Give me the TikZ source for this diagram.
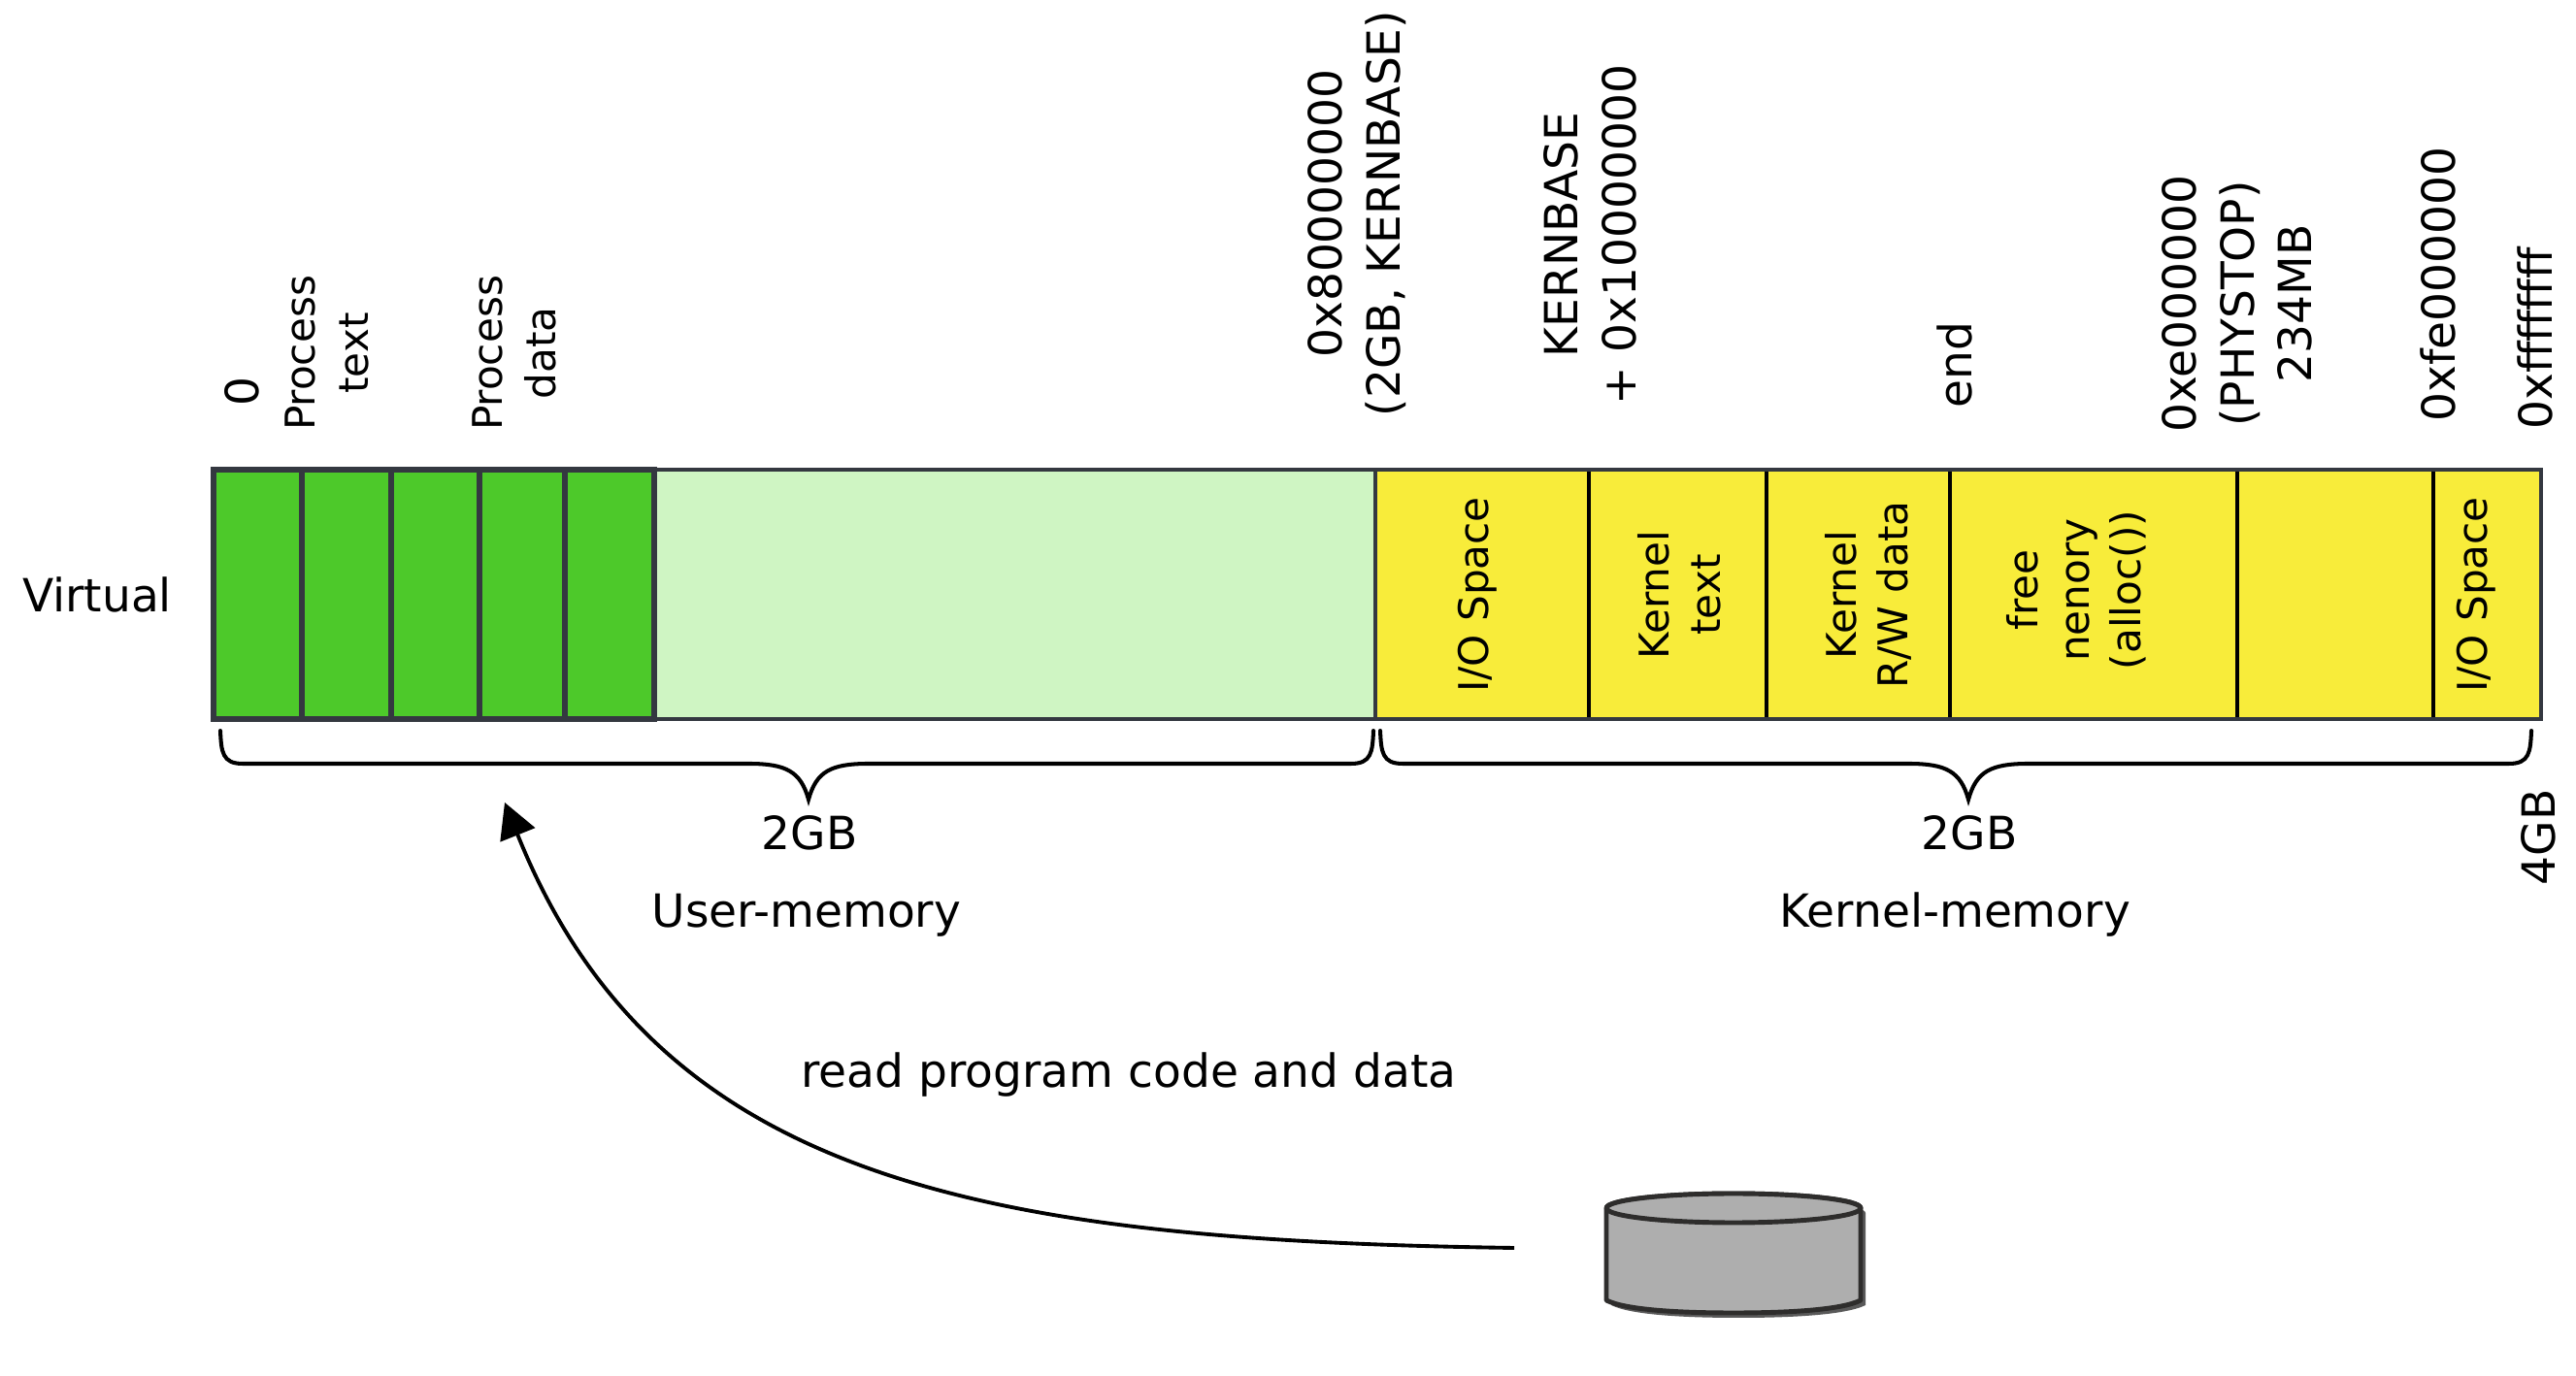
\documentclass[tikz,border=0pt]{standalone}
\usepackage{fontspec}
\setmainfont{DejaVu Sans}
\usetikzlibrary{arrows.meta,shadows}

\definecolor{procgreen}{HTML}{4DC92A}
\definecolor{usergreen}{HTML}{CFF5C3}
\definecolor{kernyellow}{HTML}{F8EC3A}
\definecolor{framegray}{HTML}{343840}
\definecolor{diskgray}{HTML}{AEAEAE}
\definecolor{diskline}{HTML}{2E2D2C}

\tikzset{
  lab/.style={font=\fontsize{13.4}{17}\selectfont, align=center},
  toplab/.style={lab, rotate=90},
  seglab/.style={font=\fontsize{12}{15}\selectfont, align=center, rotate=90},
  brc/.style={line width=1.15pt, line cap=round},
  diskpart/.style={draw=diskline, line width=1.4pt, fill=diskgray, line join=round},
}

\begin{document}
\begin{tikzpicture}
    \useasboundingbox (0,0) rectangle (26.54,14.18);

    % Process pages
    \draw[line width=1.3pt, draw=framegray, fill=usergreen] (6.74,6.77) rectangle (14.17,9.34);
    \foreach \xa/\xb in {2.20/3.11, 3.11/4.03, 4.03/4.94, 4.94/5.82, 5.82/6.74}
        \draw[line width=1.5pt, draw=framegray, fill=procgreen] (\xa,6.77) rectangle (\xb,9.34);

    % Kernel part
    \fill[kernyellow] (14.17,6.77) rectangle (26.18,9.34);
    \foreach \x in {14.17, 16.37, 18.20, 20.09, 23.05, 25.07}
        \draw[line width=1.1pt] (\x,6.77) -- (\x,9.34);
    \draw[line width=1.2pt, draw=framegray] (14.17,6.77) rectangle (26.18,9.34);

    % Labels inside
    \node[seglab] (io1) at (15.22,8.05) {I/O Space};
    \node[seglab] (ktext) at (17.30,8.05) {Kernel\\text};
    \node[seglab] (kdata) at (19.25,8.05) {Kernel\\R/W data};
    \node[seglab] (free) at (21.39,8.10) {free\\nenory\\(alloc())};
    \node[seglab] (io2) at (25.51,8.05) {I/O Space};

    % Addresses
    \node[toplab] (zero) at (2.49,10.14) {0};
    \node[toplab, font=\fontsize{12}{15.5}\selectfont] (ptext) at (3.37,10.54) {Process\\text};
    \node[toplab, font=\fontsize{12}{15.5}\selectfont] (pdata) at (5.30,10.54) {Process\\data};
    \node[toplab] (kbase) at (13.98,11.98) {0x80000000\\(2GB, KERNBASE)};
    \node[toplab] (kbaseb) at (16.38,11.76) {KERNBASE\\+ 0x10000000};
    \node[toplab] (kend) at (20.14,10.42) {end};
    \node[toplab] (phystop) at (23.05,11.05) {0xe000000\\(PHYSTOP)\\234MB};
    \node[toplab] (devsp) at (25.12,11.25) {0xfe000000};
    \node[toplab] (topaddr) at (26.12,10.69) {0xffffffff};
    \node[toplab] (fourgb) at (26.15,5.55) {4GB};

    \node[lab] (virt) at (1.00,8.05) {Virtual};

    % Braces
    \draw[brc] (2.27,6.65) .. controls (2.28,6.43) and (2.29,6.31) .. (2.50,6.31) -- (7.71,6.31)
        .. controls (8.10,6.31) and (8.25,6.23) .. (8.33,5.94)
        .. controls (8.41,6.23) and (8.56,6.31) .. (8.95,6.31) -- (13.92,6.31)
        .. controls (14.13,6.31) and (14.14,6.43) .. (14.15,6.65);
    \draw[brc] (14.22,6.65) .. controls (14.23,6.43) and (14.24,6.31) .. (14.45,6.31) -- (19.66,6.31)
        .. controls (20.05,6.31) and (20.20,6.23) .. (20.28,5.94)
        .. controls (20.36,6.23) and (20.51,6.31) .. (20.90,6.31) -- (25.85,6.31)
        .. controls (26.06,6.31) and (26.07,6.43) .. (26.08,6.65);
    \node[lab] (ugb) at (8.34,5.60) {2GB};
    \node[lab] (kgb) at (20.29,5.60) {2GB};
    \node[lab] (umem) at (8.31,4.75) {User-memory};
    \node[lab] (kmem) at (20.14,4.75) {Kernel-memory};

    % Disk
    \draw[diskpart, drop shadow={shadow xshift=0.05cm, shadow yshift=-0.05cm, fill=black, opacity=0.65}]
        (16.55,1.73) -- (16.55,0.78) .. controls (16.75,0.68) and (17.30,0.65) .. (17.86,0.65)
        .. controls (18.42,0.65) and (18.97,0.68) .. (19.17,0.78) -- (19.17,1.73)
        arc[start angle=0, end angle=180, x radius=1.31, y radius=0.15] -- cycle;
    \draw[diskpart] (17.86,1.73) ellipse [x radius=1.31, y radius=0.15];

    % Read arrow
    \node[lab] (rd) at (11.63,3.10) {read program code and data};
    \coordinate (rdstart) at (15.60,1.32);
    \coordinate (rdend) at (5.20,5.91);
    \draw[-{Triangle[length=0.36cm,width=0.38cm]}, line width=1.1pt] (rdstart) .. controls (10.16,1.40) and (6.77,1.99) .. (rdend);
\end{tikzpicture}
\end{document}
